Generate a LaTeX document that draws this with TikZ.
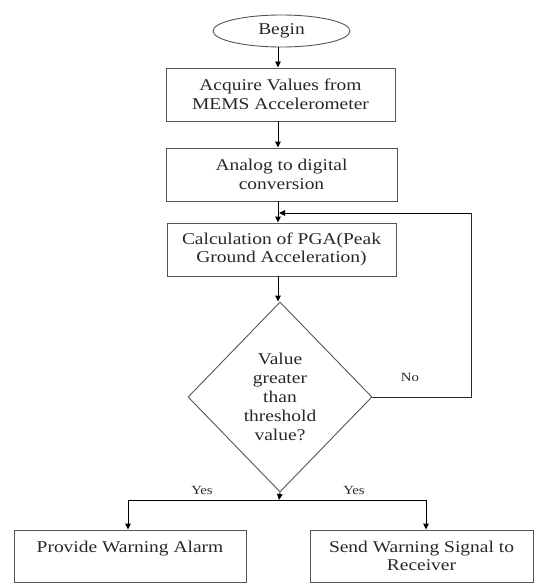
\documentclass[tikz,border=0pt]{standalone}
\usepackage{fontspec}
\setmainfont{Liberation Serif}[FakeStretch=1.18]
\usetikzlibrary{shapes.geometric,arrows.meta}
\definecolor{edge}{RGB}{85,85,85}
\definecolor{ink}{RGB}{40,40,40}
\tikzset{
  x=1pt,y=1pt,
  boxnode/.style={draw=edge,line width=0.9pt,rectangle,inner sep=0pt,
    minimum height=53pt,align=center,text=ink,
    font=\fontsize{16.5}{18.5}\selectfont},
  flowarrow/.style={draw=black,line width=0.9pt,-{Triangle[length=6pt,width=5.5pt]}},
  flowline/.style={draw=black,line width=0.9pt},
  lbl/.style={text=ink,font=\fontsize{12.5}{14}\selectfont,inner sep=0pt}
}
\begin{document}
\begin{tikzpicture}
\useasboundingbox (0,0) rectangle (536,-583);
\node[ellipse,draw=edge,line width=0.9pt,minimum width=137pt,minimum height=32pt,inner sep=0pt,
  text=ink,font=\fontsize{16.5}{18.5}\selectfont] (begin) at (281.5,-31) {Begin};
\node[boxnode,minimum width=229pt] (b1) at (280.5,-94.5) {Acquire Values from\\MEMS Accelerometer};
\node[boxnode,minimum width=231pt] (b2) at (281.5,-174.5) {Analog to digital\\conversion};
\node[boxnode,minimum width=229pt] (b3) at (281.5,-249.5) {Calculation of PGA(Peak\\Ground Acceleration)};
\node[diamond,draw=edge,line width=0.9pt,inner sep=0pt,minimum width=184pt,minimum height=190pt,
  align=center,text=ink,font=\fontsize{16.5}{19}\selectfont] (dia) at (280,-397)
  {Value\\greater\\than\\threshold\\value?};
\node[boxnode,minimum width=232pt,minimum height=52pt] (lbox) at (130,-556) {Provide Warning Alarm\\\phantom{R}};
\node[boxnode,minimum width=223pt,minimum height=52pt] (rbox) at (421.5,-556) {Send Warning Signal to\\Receiver};

\coordinate (axis) at (278,0);
\draw[flowarrow] (begin.south -| axis) -- (b1.north -| axis);
\draw[flowarrow] (b1.south -| axis) -- (b2.north -| axis);
\draw[flowarrow] (b2.south -| axis) -- (b3.north -| axis);
\draw[flowarrow] (b3.south -| axis) -- (dia.north -| axis);

\coordinate (fb1) at (471,-397);
\coordinate (fb2) at (471,-213);
\coordinate (fbE) at (279,-213);
\draw[flowline,draw=ink] (dia.east) -- (fb1) -- (fb2);
\draw[flowarrow] (fb2) -- (fbE);

\coordinate (split) at (279,-500);
\coordinate (sl) at (128,-500);
\coordinate (sr) at (426,-500);
\draw[flowarrow] (dia.south) -- (split);
\draw[flowline] (sl) -- (sr);
\draw[flowarrow] (sl) -- (lbox.north -| sl);
\draw[flowarrow] (sr) -- (rbox.north -| sr);

\node[lbl] (no) at (410,-377) {No};
\node[lbl] (yes1) at (202,-490) {Yes};
\node[lbl] (yes2) at (354,-490) {Yes};
\end{tikzpicture}
\end{document}
